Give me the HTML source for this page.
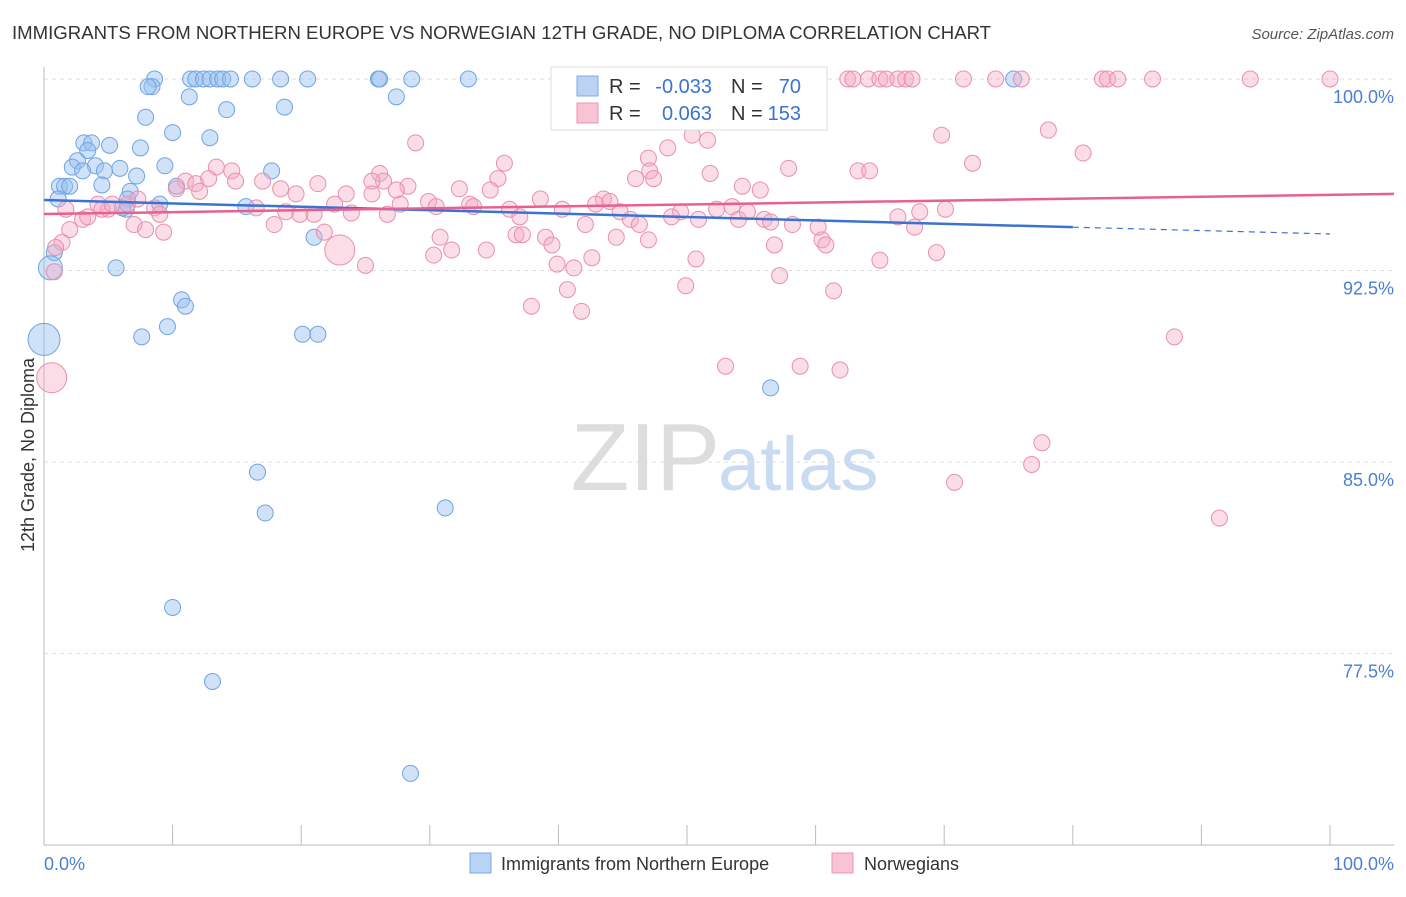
<!DOCTYPE html>
<html><head><meta charset="utf-8"><style>
body{margin:0;background:#fff;font-family:"Liberation Sans",sans-serif;}
svg text{font-family:"Liberation Sans",sans-serif;}
</style></head><body>
<svg id="chart" width="1406" height="892" xmlns="http://www.w3.org/2000/svg">
<text x="12" y="39" font-size="18.6" fill="#333">IMMIGRANTS FROM NORTHERN EUROPE VS NORWEGIAN 12TH GRADE, NO DIPLOMA CORRELATION CHART</text>
<text x="1394" y="39" font-size="15" fill="#555" text-anchor="end" font-style="italic">Source: ZipAtlas.com</text>
<text x="720" y="490" font-size="96" fill="#ddd" text-anchor="end" font-family="Liberation Serif">ZIP</text>
<text x="718" y="490" font-size="76" fill="#c9dbf2">atlas</text>
<g id="grid"></g>
<g id="axes"></g>
<g id="blue"></g>
<g id="pink"></g>
<g id="trends"></g>
<text transform="translate(34,455) rotate(-90)" font-size="18" fill="#333" text-anchor="middle">12th Grade, No Diploma</text>
<text x="44" y="870" font-size="18" fill="#4a7fd4">0.0%</text>
<text x="1394" y="870" font-size="18" fill="#4a7fd4" text-anchor="end">100.0%</text>
<g>
<rect x="551" y="67" width="276" height="63" fill="#fff" stroke="#ddd"/>
<rect x="577" y="76" width="21" height="20" fill="#b9d3f5" stroke="#7ea9e6"/>
<rect x="577" y="103" width="21" height="20" fill="#f8c3d3" stroke="#ec96b2"/>
<text x="609" y="93" font-size="20" fill="#333">R =</text>
<text x="712" y="93" font-size="20" fill="#3a73d1" text-anchor="end">-0.033</text>
<text x="731" y="93" font-size="20" fill="#333">N =</text>
<text x="801" y="93" font-size="20" fill="#3a73d1" text-anchor="end">70</text>
<text x="609" y="120" font-size="20" fill="#333">R =</text>
<text x="712" y="120" font-size="20" fill="#3a73d1" text-anchor="end">0.063</text>
<text x="731" y="120" font-size="20" fill="#333">N =</text>
<text x="801" y="120" font-size="20" fill="#3a73d1" text-anchor="end">153</text>
</g>
<g>
<rect x="470" y="853" width="21" height="20" fill="#b9d3f5" stroke="#7ea9e6"/>
<text x="501" y="870" font-size="18" fill="#333">Immigrants from Northern Europe</text>
<rect x="832" y="853" width="21" height="20" fill="#f8c3d3" stroke="#ec96b2"/>
<text x="864" y="870" font-size="18" fill="#333">Norwegians</text>
</g>
</svg>
<script>
const yTicks=[100,92.5,85,77.5];
const yTickLabels=["100.0%","92.5%","85.0%","77.5%"];
const blueX=[8.6,8.4,8.1,11.4,11.8,12.4,12.9,13.5,13.9,14.5,16.2,18.4,20.5,26.0,26.1,28.6,33.0,75.4,11.3,14.2,7.9,18.7,27.4,10.0,12.9,3.1,3.7,5.1,3.4,7.5,2.6,2.2,4.0,5.9,3.0,4.7,9.4,17.7,7.2,1.2,1.6,2.0,4.5,6.7,6.5,1.1,6.4,6.1,9.0,10.3,15.7,21.0,0.8,0.5,5.6,10.7,11.0,9.6,7.6,20.1,21.3,0,56.5,16.6,17.2,31.2,10.0,13.1,28.5];
const blueY=[100,99.7,99.7,100,100,100,100,100,100,100,100,100,100,100,100,100,100,100,99.3,98.8,98.5,98.9,99.3,97.9,97.7,97.5,97.5,97.4,97.2,97.3,96.8,96.55,96.6,96.5,96.4,96.4,96.6,96.4,96.2,95.8,95.8,95.8,95.85,95.6,95.3,95.3,94.9,94.95,95.1,95.8,95.0,93.8,93.2,92.6,92.6,91.35,91.1,90.3,89.9,90.0,90.0,89.8,87.9,84.6,83.0,83.2,79.3,76.4,72.8];
const blueBig=[61,53];
const pinkX=[60.2,62.5,62.9,64.1,65.0,65.5,66.4,67.0,67.5,71.5,74.0,76.0,82.3,82.7,83.5,86.2,93.8,100,28.9,50.4,48.5,47.0,51.6,69.8,78.1,80.8,72.2,35.8,47.1,13.4,14.6,26.1,26.4,35.3,46.0,47.4,51.8,57.9,63.3,64.2,11.0,11.8,12.8,14.9,17.0,21.3,25.5,28.3,32.3,34.7,38.6,54.3,55.7,10.3,12.1,18.4,19.6,23.5,25.5,27.4,27.7,29.9,33.1,36.2,43.5,42.9,44.0,44.8,49.5,52.3,53.5,56.0,58.2,60.2,66.4,68.1,3.0,3.4,4.2,5.0,6.5,7.3,8.6,9.0,16.5,18.8,19.9,21.0,22.6,23.9,26.7,30.5,33.4,37.0,40.3,45.6,46.3,48.8,54.0,56.5,1.7,4.5,5.3,2.0,7.0,7.9,9.3,17.9,21.8,36.7,37.2,39.0,39.5,42.1,44.5,47.0,50.9,56.8,60.5,60.8,67.7,1.4,0.9,0.8,23.0,30.8,31.7,30.3,34.4,42.6,39.9,41.2,25.0,50.7,65.0,69.4,49.9,57.2,61.4,40.7,37.9,41.8,87.9,53.0,58.8,61.9,0.6,77.6,76.8,70.8,91.4,54.7,70.1];
const pinkY=[100,100,100,100,100,100,100,100,100,100,100,100,100,100,100,100,100,100,97.5,97.8,97.3,96.9,97.6,97.8,98.0,97.1,96.7,96.7,96.4,96.55,96.4,96.3,96.0,96.1,96.1,96.1,96.3,96.5,96.4,96.4,96.0,95.9,96.1,96.0,96.0,95.9,96.0,95.8,95.7,95.65,95.3,95.8,95.65,95.7,95.6,95.7,95.5,95.5,95.5,95.65,95.1,95.2,95.1,94.9,95.3,95.1,95.2,94.8,94.8,94.9,95.0,94.5,94.3,94.2,94.6,94.8,94.5,94.6,95.1,94.9,95.1,95.3,94.95,94.7,94.95,94.8,94.7,94.7,95.1,94.75,94.7,95.0,95.0,94.6,94.9,94.5,94.3,94.6,94.5,94.4,94.9,94.9,95.1,94.1,94.3,94.1,94.0,94.3,94.0,93.9,93.9,93.8,93.5,94.3,93.8,93.7,94.5,93.5,93.7,93.5,94.2,93.6,93.4,92.45,93.3,93.8,93.3,93.1,93.3,93.0,92.75,92.6,92.7,92.95,92.9,93.2,91.9,92.3,91.7,91.75,91.1,90.9,89.9,88.75,88.75,88.6,88.3,85.75,84.9,84.2,82.8,94.8,94.9];
const pinkBig=[124,146];
const blueTrend=[95.26,93.93], blueSolidEnd=80;
const pinkTrend=[94.71,95.46];
const NS="http://www.w3.org/2000/svg";
const X0=44,X1=1330,Y100=79,PXY=25.53;
const sx=v=>X0+(X1-X0)*v/100;
const sy=v=>Y100+(100-v)*PXY;
function mk(p,t,a){const e=document.createElementNS(NS,t);for(const k in a)e.setAttribute(k,a[k]);document.getElementById(p).appendChild(e);return e;}
yTicks.forEach((t,i)=>{
  const l=mk('grid','line',{x1:44,x2:1394,y1:sy(t),y2:sy(t),stroke:'#ddd','stroke-dasharray':'4,4'});
  
  
  const tx=mk('grid','text',{x:1394,y:sy(t)+24,'font-size':18,fill:'#4a7fd4','text-anchor':'end'});
  tx.textContent=yTickLabels[i];
  
  
});
let a=mk('axes','line',{x1:44,x2:44,y1:67,y2:845,stroke:'#bbb'});


a=mk('axes','line',{x1:44,x2:1394,y1:845,y2:845,stroke:'#bbb'});


for(let i=0;i<=10;i++){
  const t=mk('axes','line',{x1:sx(i*10),x2:sx(i*10),y1:825,y2:845,stroke:'#bbb'});
  
  
}
blueX.forEach((x,i)=>{
  const r=blueBig[0]===i?16:(blueBig[1]===i?12:8);
  const c=mk('blue','circle',{cx:sx(x),cy:sy(blueY[i]),r:r,fill:'rgba(150,190,240,0.45)',stroke:'#6fa3e3','stroke-width':1});
  
  
});
pinkX.forEach((x,i)=>{
  const r=pinkBig.includes(i)?15:8;
  const c=mk('pink','circle',{cx:sx(x),cy:sy(pinkY[i]),r:r,fill:'rgba(245,170,195,0.4)',stroke:'#ea8fac','stroke-width':1});
  
  
});
const bAt=x=>blueTrend[0]+(blueTrend[1]-blueTrend[0])*x/100;
let t=mk('trends','line',{x1:sx(0),y1:sy(bAt(0)),x2:sx(blueSolidEnd),y2:sy(bAt(blueSolidEnd)),stroke:'#3a73d1','stroke-width':2.5});


t=mk('trends','line',{x1:sx(blueSolidEnd),y1:sy(bAt(blueSolidEnd)),x2:sx(100),y2:sy(bAt(100)),stroke:'#3a73d1','stroke-width':1.2,'stroke-dasharray':'6,5'});


t=mk('trends','line',{x1:sx(0),y1:sy(pinkTrend[0]),x2:sx(100)+64,y2:sy(pinkTrend[1])-1,stroke:'#e8608f','stroke-width':2.5});


</script>
</body></html>
